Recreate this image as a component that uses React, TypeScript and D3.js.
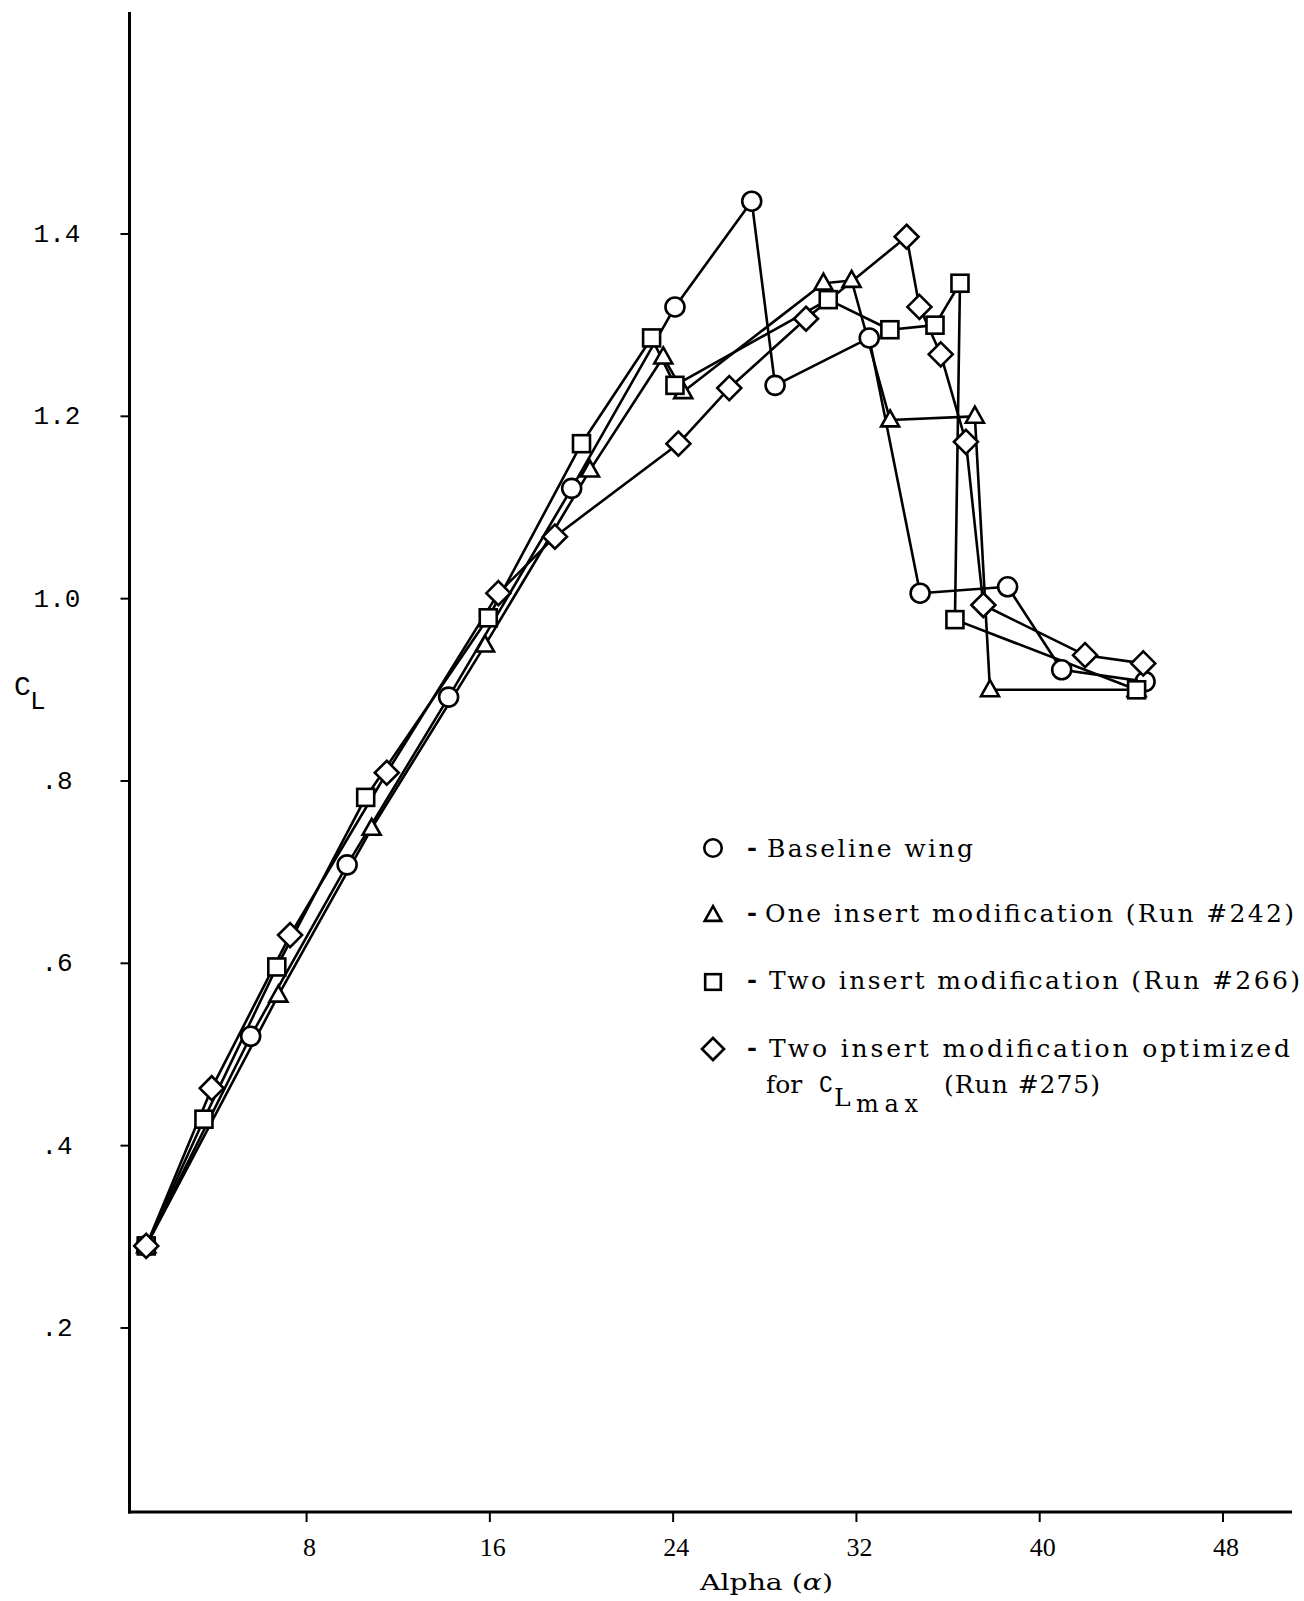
import React from 'react';
import * as d3 from 'd3';

// Lift coefficient vs. angle of attack, four wing configurations
const baselineAlpha = [1.0, 5.56, 9.77, 14.2, 19.57, 24.08, 27.43, 28.45, 32.56, 34.78, 38.6, 40.96, 44.6];
const baselineCL = [0.29, 0.52, 0.708, 0.892, 1.121, 1.32, 1.436, 1.234, 1.286, 1.006, 1.013, 0.922, 0.909];

const oneInsertAlpha = [1.0, 6.77, 10.84, 15.79, 20.37, 23.57, 24.44, 30.56, 31.79, 33.47, 37.17, 37.83, 44.23];
const oneInsertCL = [0.29, 0.565, 0.748, 0.949, 1.141, 1.265, 1.227, 1.346, 1.349, 1.196, 1.2, 0.9, 0.9];

const twoInsertAlpha = [1.0, 3.52, 6.7, 10.58, 15.93, 20.0, 23.06, 24.08, 30.77, 33.46, 35.43, 36.52, 36.3, 44.23];
const twoInsertCL = [0.29, 0.429, 0.596, 0.782, 0.979, 1.17, 1.286, 1.234, 1.328, 1.295, 1.3, 1.346, 0.977, 0.9];

const optimizedAlpha = [1.0, 3.86, 7.28, 11.5, 16.37, 18.84, 24.23, 26.45, 29.8, 34.19, 34.75, 35.68, 36.78, 37.54, 41.98, 44.52];
const optimizedCL = [0.29, 0.463, 0.631, 0.809, 1.006, 1.068, 1.17, 1.231, 1.307, 1.397, 1.32, 1.268, 1.172, 0.993, 0.938, 0.929];

const xTicks = [8, 16, 24, 32, 40, 48];
const xTickLabels = ['8', '16', '24', '32', '40', '48'];
const yTicks = [0.2, 0.4, 0.6, 0.8, 1.0, 1.2, 1.4];
const yTickLabels = ['.2', '.4', '.6', '.8', '1.0', '1.2', '1.4'];

const legendLabels = [
  'Baseline wing',
  'One insert modification (Run #242)',
  'Two insert modification (Run #266)',
  'Two insert modification optimized',
];

type Shape = 'circle' | 'triangle' | 'square' | 'diamond';

const series: { alpha: number[]; cl: number[]; shape: Shape }[] = [
  { alpha: baselineAlpha, cl: baselineCL, shape: 'circle' },
  { alpha: oneInsertAlpha, cl: oneInsertCL, shape: 'triangle' },
  { alpha: twoInsertAlpha, cl: twoInsertCL, shape: 'square' },
  { alpha: optimizedAlpha, cl: optimizedCL, shape: 'diamond' },
];

const W = 1304;
const H = 1601;
const axisX = 129.5;
const axisY = 1512;

const x = d3.scaleLinear().domain([0, 48]).range([123.3, 123.3 + 48 * 22.91]);
const y = d3.scaleLinear().domain([0, 1.4]).range([1510.3, 234]);

function Marker({ shape, cx, cy, size = 1 }: { shape: Shape; cx: number; cy: number; size?: number }) {
  const sw = 2.6;
  const common = { fill: '#fff', stroke: '#000', strokeWidth: sw };
  if (shape === 'circle') return <circle cx={cx} cy={cy} r={9.5 * size} {...common} />;
  if (shape === 'square') {
    const s = 17 * size;
    return <rect x={cx - s / 2} y={cy - s / 2} width={s} height={s} {...common} />;
  }
  if (shape === 'triangle') {
    const w = 18 * size;
    const h = 16 * size;
    const pts = `${cx},${cy - h * 0.6} ${cx + w / 2},${cy + h * 0.4} ${cx - w / 2},${cy + h * 0.4}`;
    return <polygon points={pts} {...common} strokeLinejoin="miter" />;
  }
  const r = 12 * size;
  const pts = `${cx},${cy - r} ${cx + r},${cy} ${cx},${cy + r} ${cx - r},${cy}`;
  return <polygon points={pts} {...common} />;
}

export default function App() {
  const line = d3
    .line<[number, number]>()
    .x((d) => x(d[0]))
    .y((d) => y(d[1]))
    .curve(d3.curveLinear);

  const serif = '"DejaVu Serif", "Liberation Serif", serif';
  const mono = '"Liberation Mono", "DejaVu Sans Mono", monospace';

  const legendX = 713;
  const legendRows = [848, 915, 982, 1049];
  const legendBase = [857, 922, 989, 1057];
  const legendText = [
    { x: 767, w: 206 },
    { x: 765, w: 529 },
    { x: 769, w: 531 },
    { x: 769, w: 521 },
  ];

  return (
    <svg width={W} height={H} style={{ position: 'absolute', left: 0, top: 0, background: '#fff' }}>
      <rect x={0} y={0} width={W} height={H} fill="#fff" />

      {/* axes */}
      <line x1={axisX} y1={12} x2={axisX} y2={axisY + 1.5} stroke="#000" strokeWidth={3} />
      <line x1={axisX - 1.5} y1={axisY} x2={1292} y2={axisY} stroke="#000" strokeWidth={3} />

      {yTicks.map((t, i) => (
        <g key={`yt${i}`}>
          <line x1={axisX - 9} x2={axisX} y1={y(t)} y2={y(t)} stroke="#000" strokeWidth={2} />
          <text x={57} y={y(t) + 8} fontFamily={mono} fontSize={26} textAnchor="middle" fill="#000">
            {yTickLabels[i]}
          </text>
        </g>
      ))}

      {xTicks.map((t, i) => (
        <g key={`xt${i}`}>
          <line x1={x(t)} x2={x(t)} y1={axisY} y2={axisY + 10} stroke="#000" strokeWidth={2} />
          <text x={x(t) + 3} y={1556} fontFamily='"Liberation Serif", serif' fontSize={26} textAnchor="middle" fill="#000">
            {xTickLabels[i]}
          </text>
        </g>
      ))}

      <text x={700} y={1590} fontFamily={serif} fontSize={22} textLength={133} lengthAdjust="spacingAndGlyphs" fill="#000">
        Alpha (<tspan fontStyle="italic">α</tspan>)
      </text>

      <text x={14} y={695} fontFamily={mono} fontSize={28} fill="#000">C</text>
      <text x={30} y={709} fontFamily={mono} fontSize={26} fill="#000">L</text>

      {/* data lines */}
      {series.map((s, i) => (
        <path
          key={`l${i}`}
          d={line(s.alpha.map((a, j) => [a, s.cl[j]] as [number, number])) || ''}
          fill="none"
          stroke="#000"
          strokeWidth={2.6}
          strokeLinejoin="round"
        />
      ))}

      {/* markers */}
      {series.map((s, i) => (
        <g key={`m${i}`}>
          {s.alpha.map((a, j) => (
            <Marker key={j} shape={s.shape} cx={x(a)} cy={y(s.cl[j])} />
          ))}
        </g>
      ))}

      {/* legend */}
      {series.map((s, i) => (
        <g key={`lg${i}`}>
          <Marker shape={s.shape} cx={legendX} cy={legendRows[i]} size={0.92} />
          <text x={747} y={legendBase[i] - 1} fontFamily={serif} fontSize={24} fontWeight="bold" fill="#000">-</text>
          <text
            x={legendText[i].x}
            y={legendBase[i]}
            fontFamily={serif}
            fontSize={25}
            textLength={legendText[i].w}
            lengthAdjust="spacing"
            fill="#000"
          >
            {legendLabels[i]}
          </text>
        </g>
      ))}
      <text x={766} y={1093} fontFamily={serif} fontSize={25} fill="#000">for</text>
      <text x={819} y={1092} fontFamily={mono} fontSize={23} fill="#000">C</text>
      <text x={834} y={1106} fontFamily={serif} fontSize={25} fill="#000">L</text>
      <text x={856} y={1112} fontFamily={serif} fontSize={24} textLength={62} lengthAdjust="spacing" fill="#000">max</text>
      <text x={944} y={1093} fontFamily={serif} fontSize={25} textLength={156} lengthAdjust="spacing" fill="#000">
        (Run #275)
      </text>
    </svg>
  );
}
